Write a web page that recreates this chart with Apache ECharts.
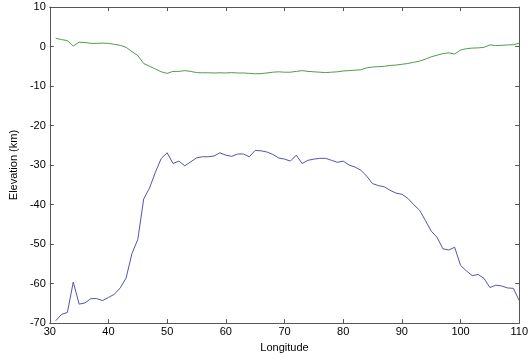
<!DOCTYPE html>
<html>
<head>
<meta charset="utf-8">
<script src="https://cdn.jsdelivr.net/npm/echarts@6/dist/echarts.min.js"></script>
<style>
  html, body { margin: 0; padding: 0; background: #fff; }
  #chart { width: 531px; height: 358px; }
</style>
</head>
<body>
<div id="chart"></div>
<script>
// longitude 31..110, one sample per degree
const longitude = [
  31, 32, 33, 34, 35, 36, 37, 38, 39, 40,
  41, 42, 43, 44, 45, 46, 47, 48, 49, 50,
  51, 52, 53, 54, 55, 56, 57, 58, 59, 60,
  61, 62, 63, 64, 65, 66, 67, 68, 69, 70,
  71, 72, 73, 74, 75, 76, 77, 78, 79, 80,
  81, 82, 83, 84, 85, 86, 87, 88, 89, 90,
  91, 92, 93, 94, 95, 96, 97, 98, 99, 100,
  101, 102, 103, 104, 105, 106, 107, 108, 109, 110
];

const surface = [
  2.1, 1.75, 1.5, 0.1, 1.1, 1.0, 0.8, 0.8, 0.85, 0.8,
  0.55, 0.3, -0.2, -1.3, -2.3, -4.3, -5.0, -5.7, -6.4, -6.8,
  -6.3, -6.3, -6.1, -6.3, -6.6, -6.65, -6.65, -6.7, -6.65, -6.7,
  -6.6, -6.7, -6.7, -6.8, -6.9, -6.85, -6.7, -6.5, -6.4, -6.5,
  -6.5, -6.3, -6.1, -6.3, -6.4, -6.5, -6.6, -6.5, -6.4, -6.2,
  -6.1, -6.0, -5.9, -5.4, -5.2, -5.1, -5.0, -4.8, -4.7, -4.5,
  -4.3, -4.0, -3.7, -3.2, -2.6, -2.2, -1.8, -1.6, -1.9, -0.9,
  -0.55, -0.4, -0.35, -0.2, 0.4, 0.25, 0.3, 0.4, 0.45, 0.85
];

const moho = [
  -69.4, -67.8, -67.3, -59.6, -65.2, -64.9, -63.8, -63.8, -64.3, -63.5,
  -62.7, -61.1, -58.6, -52.4, -48.8, -38.6, -35.8, -31.8, -28.3, -26.9,
  -29.6, -29.0, -30.2, -29.2, -28.2, -27.9, -27.9, -27.7, -26.9, -27.5,
  -27.8, -27.2, -27.2, -27.9, -26.3, -26.4, -26.7, -27.3, -28.2, -28.5,
  -29.0, -27.5, -29.6, -28.8, -28.5, -28.3, -28.3, -28.8, -29.3, -29.0,
  -30.0, -30.5, -31.3, -32.8, -34.7, -35.2, -35.5, -36.4, -37.1, -37.4,
  -38.4, -40.0, -41.4, -44.0, -46.7, -48.3, -51.2, -51.5, -50.8, -55.4,
  -56.8, -58.0, -57.7, -58.7, -61.0, -60.4, -60.6, -61.1, -61.2, -64.3
];

const chart = echarts.init(document.getElementById("chart"), null, { renderer: "canvas" });

const font = "Liberation Sans, Arial, Helvetica, sans-serif";
const boxColor = "#555";

const axisBase = {
  type: "value",
  axisLine: { show: true, onZero: false, lineStyle: { color: boxColor, width: 1 } },
  axisTick: { show: true, inside: true, length: 4, lineStyle: { color: boxColor } },
  splitLine: { show: false },
};

const option = {
  animation: false,
  backgroundColor: "#fff",
  grid: { left: 44, right: 7, top: 7, bottom: 31, containLabel: false },
  xAxis: [
    {
      ...axisBase,
      min: 30,
      max: 110,
      interval: 10,
      name: "Longitude",
      nameLocation: "middle",
      nameGap: 16,
      nameTextStyle: { color: "#000", fontSize: 11, fontFamily: font },
      axisLabel: { color: "#000", fontSize: 11, fontFamily: font, margin: 3 },
    },
    {
      ...axisBase,
      position: "top",
      min: 30,
      max: 110,
      interval: 10,
      axisLabel: { show: false },
    },
  ],
  yAxis: [
    {
      ...axisBase,
      min: -70,
      max: 10,
      interval: 10,
      name: "Elevation (km)",
      nameLocation: "middle",
      nameGap: 29,
      nameTextStyle: { color: "#000", fontSize: 11, fontFamily: font },
      axisLabel: { color: "#000", fontSize: 11, fontFamily: font, margin: 4 },
    },
    {
      ...axisBase,
      position: "right",
      min: -70,
      max: 10,
      interval: 10,
      axisLabel: { show: false },
    },
  ],
  series: [
    {
      name: "surface",
      type: "line",
      data: longitude.map((lon, i) => [lon, surface[i]]),
      showSymbol: false,
      lineStyle: { color: "#4c9e4c", width: 1 },
      itemStyle: { color: "#4c9e4c" },
    },
    {
      name: "moho",
      type: "line",
      data: longitude.map((lon, i) => [lon, moho[i]]),
      showSymbol: false,
      lineStyle: { color: "#5454ae", width: 1 },
      itemStyle: { color: "#5454ae" },
    },
  ],
};

chart.setOption(option);
</script>
</body>
</html>
